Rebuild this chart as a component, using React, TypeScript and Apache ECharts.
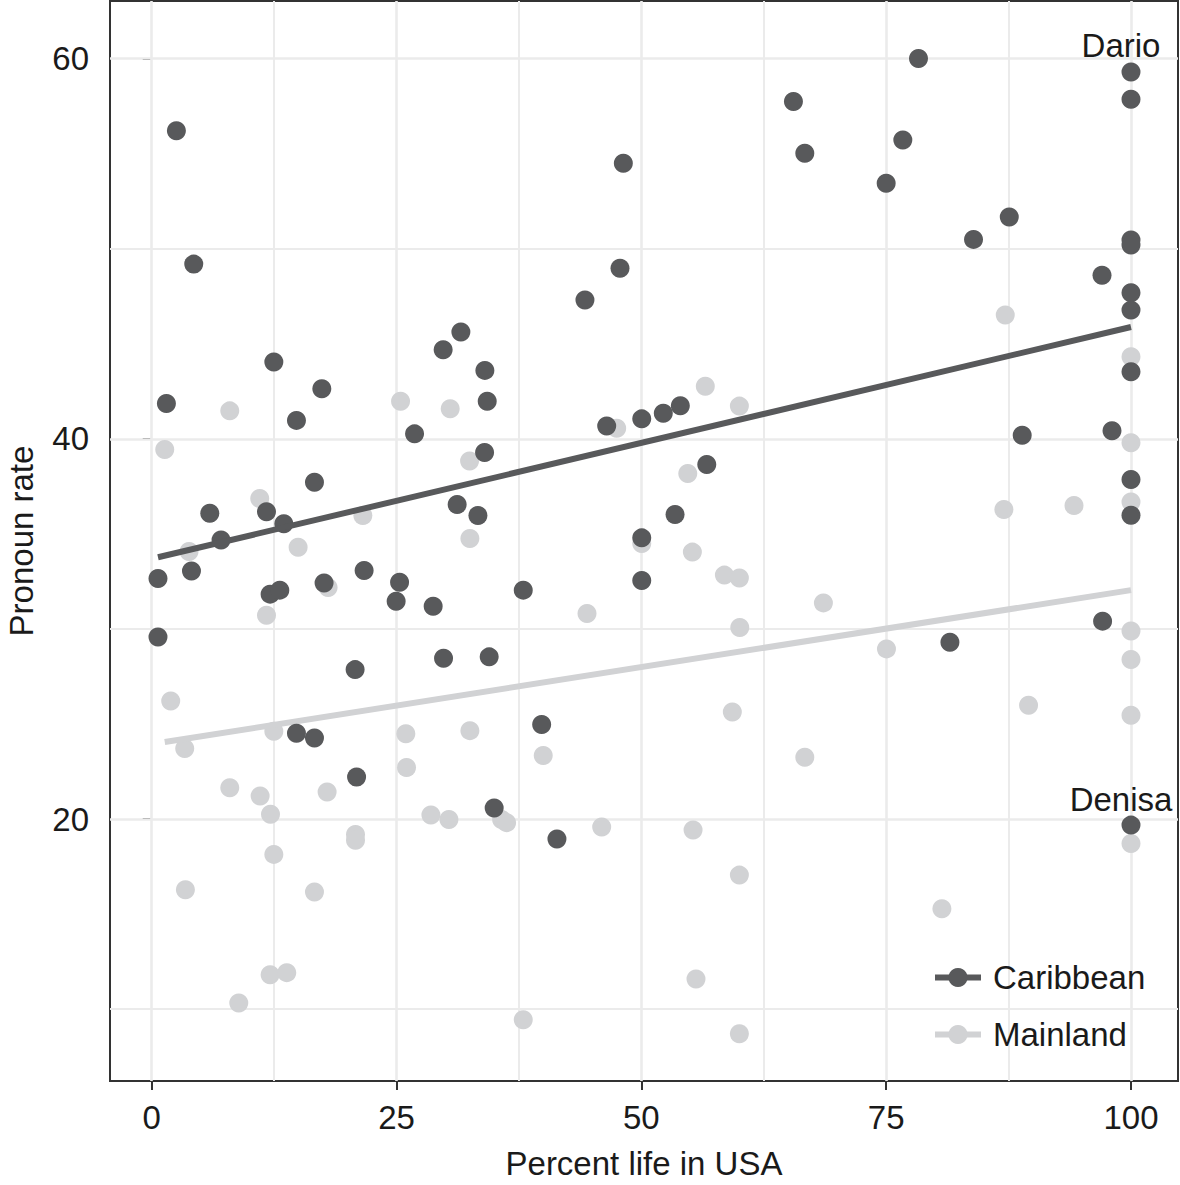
import React, { useEffect, useRef } from "react";
import * as echarts from "echarts";

// ---- axis ticks / grid values ----
const xTicks = [0, 25, 50, 75, 100];
const yTicks = [20, 40, 60];
const xMinorGrid = [12.5, 37.5, 62.5, 87.5];
const yMinorGrid = [10, 30, 50];

// ---- Caribbean speakers ----
const caribbeanX = [
  2.52, 4.29, 1.5, 12.47, 17.37, 14.78, 26.84, 29.76, 31.57, 34.02, 34.26, 33.99,
  16.62, 5.93, 11.72, 13.49, 7.08, 31.19, 33.31,
  0.64, 4.06, 12.09, 13.08, 17.6, 21.69, 25.31, 24.96, 28.74,
  0.64, 29.8, 34.46, 20.77,
  14.78, 16.62, 20.92, 34.97, 41.38, 39.82, 37.94,
  44.24, 48.16, 47.82, 46.46, 50.04, 52.24, 53.98, 56.68, 53.44, 50.04, 50.04,
  65.53, 66.69, 76.7, 75.0, 78.3, 87.57, 83.92, 97.04, 88.89, 98.06, 97.1, 81.51,
  100, 100, 100, 100, 100, 100, 100, 100, 100, 100,
];
const caribbeanY = [
  56.21, 49.19, 41.86, 44.04, 42.63, 40.97, 40.26, 44.68, 45.62, 43.6, 41.98, 39.28,
  37.72, 36.09, 36.16, 35.53, 34.68, 36.55, 35.97,
  32.65, 33.05, 31.83, 32.04, 32.42, 33.07, 32.46, 31.46, 31.19,
  29.58, 28.46, 28.53, 27.86,
  24.51, 24.26, 22.21, 20.58, 18.95, 24.97, 32.04,
  47.3, 54.49, 48.97, 40.67, 41.05, 41.34, 41.74, 38.65, 36.02, 34.79, 32.55,
  57.74, 55.02, 55.72, 53.44, 60.0, 51.67, 50.49, 48.6, 40.19, 40.42, 30.41, 29.3,
  59.3, 57.86, 50.46, 50.2, 47.68, 46.77, 43.53, 37.86, 35.98, 19.68,
];

// ---- Mainland speakers ----
const mainlandX = [
  7.97, 1.33, 25.41, 30.48, 32.46, 11.03, 3.81, 14.95, 21.56, 32.49, 18.01, 11.72,
  56.53, 60.01, 47.48, 54.74, 50.04, 55.21, 58.48, 60.01, 44.45, 60.05, 68.59, 75.03,
  87.16, 87.02, 94.18,
  1.94, 3.37, 12.47, 25.95, 32.49, 26.02, 7.97, 11.07, 17.91, 12.13, 28.51, 30.35, 35.73, 36.24,
  20.81, 20.81, 12.47, 3.44, 16.62, 12.09, 13.79, 8.89, 37.94,
  39.98, 45.95, 55.28, 59.29, 66.69, 60.01, 55.58, 60.01, 89.54, 80.69,
  100, 100, 100, 100, 100, 100, 100,
];
const mainlandY = [
  41.47, 39.44, 41.98, 41.58, 38.83, 36.86, 34.07, 34.3, 35.97, 34.76, 32.18, 30.72,
  42.77, 41.72, 40.56, 38.18, 34.49, 34.04, 32.83, 32.68, 30.81, 30.07, 31.37, 28.95,
  46.51, 36.28, 36.49,
  26.21, 23.71, 24.62, 24.49, 24.65, 22.71, 21.65, 21.21, 21.42, 20.25, 20.21, 19.97, 19.98, 19.81,
  19.19, 18.88, 18.14, 16.28, 16.16, 11.81, 11.92, 10.32, 9.44,
  23.34, 19.58, 19.42, 25.63, 23.25, 17.05, 11.58, 8.71, 25.98, 15.28,
  44.32, 39.79, 36.68, 29.89, 28.39, 25.46, 18.71,
];

// ---- fitted regression lines (end points) ----
const caribbeanFitX = [0.64, 100];
const caribbeanFitY = [33.77, 45.88];
const mainlandFitX = [1.33, 100];
const mainlandFitY = [24.05, 32.04];

// ---- labelled speakers (Caribbean) ----
const labelNames = ["Dario", "Denisa"];
const labelX = [100, 100];
const labelY = [59.3, 19.68];

const FONT = '"Liberation Sans", Arial, Helvetica, sans-serif';
const DARK = "#58595b";
const LIGHT = "#d1d2d4";
const GRIDC = "#ebebeb";
const INK = "#1a1a1a";
const FRAME = "#333333";
const FS = 33;

const pairs = (xs: number[], ys: number[]) => xs.map((x, i) => [x, ys[i]]);

export default function App() {
  const ref = useRef<HTMLDivElement>(null);

  useEffect(() => {
    if (!ref.current) return;
    const chart = echarts.init(ref.current, null, { renderer: "svg" });

    const gridLines = [
      ...xTicks.map((v) => ({ xAxis: v, lineStyle: { width: 2.6 } })),
      ...yTicks.map((v) => ({ yAxis: v, lineStyle: { width: 2.6 } })),
      ...xMinorGrid.map((v) => ({ xAxis: v, lineStyle: { width: 2 } })),
      ...yMinorGrid.map((v) => ({ yAxis: v, lineStyle: { width: 2 } })),
    ];

    const caribbeanData = pairs(caribbeanX, caribbeanY).map((p) => {
      const k = labelNames.findIndex((_, j) => labelX[j] === p[0] && labelY[j] === p[1]);
      if (k < 0) return p;
      return {
        value: p,
        name: labelNames[k],
        label: {
          show: true,
          formatter: "{b}",
          position: "top",
          distance: 0,
          offset: [-10, 0],
          fontSize: FS,
          color: INK,
          opacity: 1,
          fontFamily: FONT,
        },
      };
    });

    const option: any = {
      animation: false,
      textStyle: { fontFamily: FONT },
      grid: {
        left: 110,
        right: 2,
        top: 1,
        bottom: 104,
        show: true,
        borderColor: FRAME,
        borderWidth: 2,
        backgroundColor: "transparent",
        containLabel: false,
        outerBoundsMode: "none",
      },
      xAxis: {
        type: "value",
        min: -4.26,
        max: 104.8,
        name: "Percent life in USA",
        nameLocation: "middle",
        nameGap: 66,
        nameTextStyle: { fontSize: FS, color: INK, fontFamily: FONT },
        axisLine: { show: false },
        axisTick: {
          show: true,
          length: 9,
          customValues: xTicks,
          lineStyle: { color: FRAME, width: 2 },
        },
        axisLabel: {
          customValues: xTicks,
          fontSize: FS,
          color: INK,
          margin: 20,
          fontFamily: FONT,
        },
        splitLine: { show: false },
      },
      yAxis: {
        type: "value",
        min: 6.22,
        max: 63.03,
        name: "Pronoun rate",
        nameLocation: "middle",
        nameGap: 72,
        nameTextStyle: { fontSize: FS, lineHeight: 33, color: INK, fontFamily: FONT },
        axisLine: { show: false },
        axisTick: {
          show: true,
          length: 9,
          customValues: yTicks,
          lineStyle: { color: FRAME, width: 2 },
        },
        axisLabel: {
          customValues: yTicks,
          fontSize: FS,
          color: INK,
          margin: 21,
          fontFamily: FONT,
        },
        splitLine: { show: false },
      },
      legend: {
        data: ["Caribbean", "Mainland"],
        orient: "vertical",
        left: 932,
        top: 961,
        padding: 0,
        itemWidth: 46,
        itemHeight: 24,
        itemGap: 24,
        selectedMode: false,
        lineStyle: { width: 6 },
        textStyle: {
          fontSize: FS,
          lineHeight: 33,
          color: INK,
          fontFamily: FONT,
          padding: [0, 0, 0, 7],
        },
      },
      series: [
        {
          name: "Mainland points",
          type: "scatter",
          z: 2,
          silent: true,
          symbol: "circle",
          symbolSize: 19,
          itemStyle: { color: LIGHT, opacity: 1 },
          data: pairs(mainlandX, mainlandY),
          markLine: {
            silent: true,
            z: 1,
            symbol: ["none", "none"],
            label: { show: false },
            lineStyle: { color: GRIDC, type: "solid", width: 2 },
            emphasis: { disabled: true },
            data: gridLines,
          },
        },
        {
          name: "Mainland",
          type: "line",
          z: 3,
          silent: true,
          symbol: "circle",
          symbolSize: 19,
          showSymbol: false,
          itemStyle: { color: LIGHT },
          lineStyle: { color: LIGHT, width: 6 },
          data: pairs(mainlandFitX, mainlandFitY),
        },
        {
          name: "Caribbean points",
          type: "scatter",
          z: 4,
          silent: true,
          symbol: "circle",
          symbolSize: 19,
          itemStyle: { color: DARK, opacity: 1 },
          data: caribbeanData,
        },
        {
          name: "Caribbean",
          type: "line",
          z: 5,
          silent: true,
          symbol: "circle",
          symbolSize: 19,
          showSymbol: false,
          itemStyle: { color: DARK },
          lineStyle: { color: DARK, width: 6 },
          data: pairs(caribbeanFitX, caribbeanFitY),
        },
      ],
    };

    chart.setOption(option);
    return () => chart.dispose();
  }, []);

  return (
    <div
      ref={ref}
      style={{ position: "fixed", left: 0, top: 0, width: 1180, height: 1185, background: "#fff" }}
    />
  );
}
